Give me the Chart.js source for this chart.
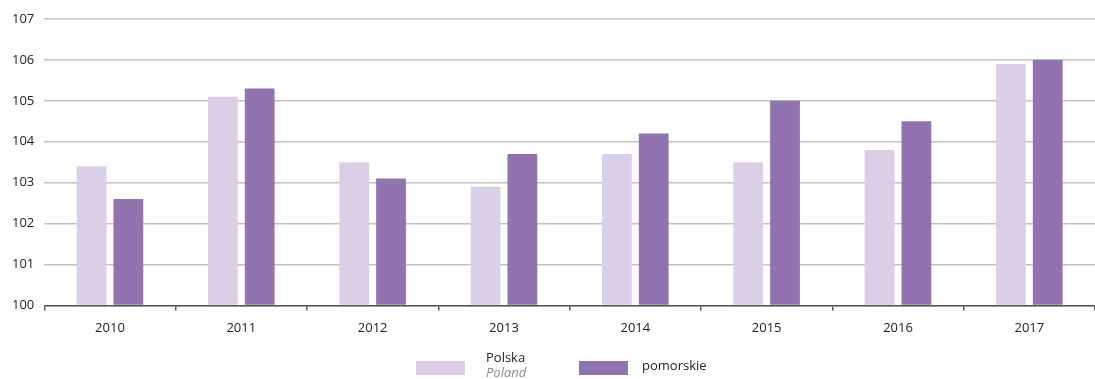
<!DOCTYPE html>
<html>
<head>
<meta charset="utf-8">
<script src="https://cdn.jsdelivr.net/npm/chart.js@4/dist/chart.umd.min.js"></script>
<style>
  html, body { margin: 0; padding: 0; background: #fff; }
  #wrap { position: relative; width: 1095px; height: 379px; }
  #c { position: absolute; left: 0; top: 0; }
  .sw { position: absolute; height: 14px; width: 49px; }
  .lt { position: absolute; font-family: "Open Sans", sans-serif; font-size: 13px; color: #222; line-height: 15px; }
  .lt i { color: #8a8a8a; }
</style>
</head>
<body>
<div id="wrap">
  <canvas id="c" width="1095" height="379"></canvas>
  <div class="sw" style="left:416px; top:361px; background:#d9d0e8;"></div>
  <div class="lt" style="left:486px; top:350px;">Polska<br><i>Poland</i></div>
  <div class="sw" style="left:579px; top:361px; background:#9173b0;"></div>
  <div class="lt" style="left:642px; top:358px;">pomorskie</div>
</div>
<script>
const categories = ["2010", "2011", "2012", "2013", "2014", "2015", "2016", "2017"];
const polska = [103.4, 105.1, 103.5, 102.9, 103.7, 103.5, 103.8, 105.9];
const pomorskie = [102.6, 105.3, 103.1, 103.7, 104.2, 105.0, 104.5, 106.0];
const seriesNames = ["Polska", "pomorskie"];
const yMin = 100, yMax = 107, yStep = 1;

new Chart(document.getElementById('c'), {
  type: 'bar',
  data: {
    labels: categories,
    datasets: [
      { label: seriesNames[0], data: polska, backgroundColor: '#d9d0e8', categoryPercentage: 0.56, barPercentage: 0.81, base: yMin },
      { label: seriesNames[1], data: pomorskie, backgroundColor: '#9173b0', categoryPercentage: 0.56, barPercentage: 0.81, base: yMin }
    ]
  },
  options: {
    responsive: false,
    animation: false,
    devicePixelRatio: 1,
    layout: { padding: { left: 2, right: 0, top: 19, bottom: 33 } },
    plugins: { legend: { display: false }, tooltip: { enabled: false } },
    scales: {
      x: {
        grid: { display: true, drawOnChartArea: false, drawTicks: true, tickLength: 5, color: '#555', lineWidth: 1.5, offset: true },
        border: { display: true, color: '#555', width: 1.5 },
        ticks: { color: '#222', font: { family: 'Open Sans', size: 13 }, padding: 10 }
      },
      y: {
        min: yMin, max: yMax,
        grid: { color: '#c2c2c2', lineWidth: 1.5, drawTicks: false },
        border: { display: false },
        ticks: { stepSize: yStep, color: '#222', font: { family: 'Open Sans', size: 13 }, padding: 10 }
      }
    }
  }
});
</script>
</body>
</html>
